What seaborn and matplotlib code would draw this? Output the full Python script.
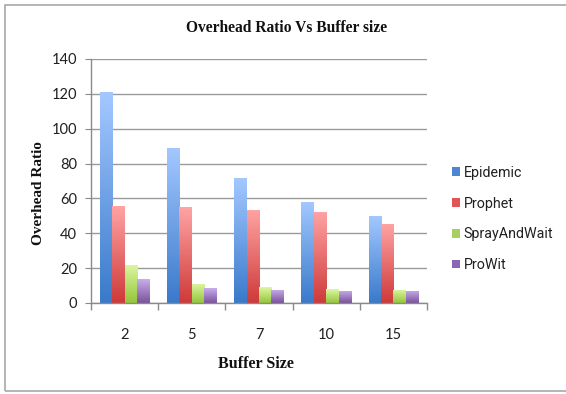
import numpy as np
import pandas as pd
import matplotlib
matplotlib.use("Agg")
import matplotlib.pyplot as plt
import matplotlib.colors as mcolors
from matplotlib.patches import Rectangle, Patch
import seaborn as sns

buffer_sizes = ["2", "5", "7", "10", "15"]
protocols = ["Epidemic", "Prophet", "SprayAndWait", "ProWit"]
epidemic = [121, 89, 72, 58, 50]
prophet = [55.5, 55, 53.5, 52.5, 45.5]
spray_and_wait = [22, 11, 9, 8, 7.5]
prowit = [13.5, 8.5, 7.5, 7, 7]

series = {"Epidemic": epidemic, "Prophet": prophet,
          "SprayAndWait": spray_and_wait, "ProWit": prowit}
df = pd.DataFrame([
    {"Buffer Size": b, "Protocol": p, "Overhead Ratio": v}
    for p in protocols for b, v in zip(buffer_sizes, series[p])
])

# (bottom, top) gradient colours and legend swatch colour
grad = {
    "Epidemic": ("#3a7acb", "#a3c8ff"),
    "Prophet": ("#cf3a3a", "#ffa3a3"),
    "SprayAndWait": ("#95c63a", "#dcf7a2"),
    "ProWit": ("#7a539c", "#c8adeb"),
}
swatch = {"Epidemic": "#4f86d4", "Prophet": "#e05555",
          "SprayAndWait": "#a8d060", "ProWit": "#8a66b4"}

sns.set_style("white")
plt.rcParams["font.family"] = ["Lato", "DejaVu Sans"]

fig = plt.figure(figsize=(5.66, 3.94), dpi=100)
fig.patch.set_facecolor("white")
ax = fig.add_axes([91 / 566, 91 / 394, 336 / 566, 244 / 394])

sns.barplot(data=df, x="Buffer Size", y="Overhead Ratio", hue="Protocol",
            order=buffer_sizes, hue_order=protocols,
            palette=swatch, saturation=1, width=0.74, legend=False, ax=ax)

ax.set_ylim(0, 140)
ax.set_xlim(-0.5, 4.5)

# vertical gradient fill inside each bar
ramp = np.linspace(0, 1, 64).reshape(-1, 1)
for proto, cont in zip(protocols, ax.containers):
    cmap = mcolors.LinearSegmentedColormap.from_list(proto, list(grad[proto]))
    for bar in cont:
        x0, y0 = bar.get_x(), bar.get_y()
        w, h = bar.get_width(), bar.get_height()
        im = ax.imshow(ramp, extent=(x0, x0 + w, y0, y0 + h), origin="lower",
                       cmap=cmap, aspect="auto", zorder=bar.get_zorder(),
                       interpolation="bilinear")
        im.set_clip_path(bar)
        bar.set_facecolor("none")
        bar.set_edgecolor("none")

ax.set_ylim(0, 140)
ax.set_xlim(-0.5, 4.5)
ax.set_yticks(np.arange(0, 141, 20))
ax.yaxis.grid(True, color="#9a9a9a", linewidth=1.0)
ax.set_axisbelow(True)

# category boundary ticks on the x axis, labels centred in the categories
ax.set_xticks(np.arange(-0.5, 5, 1.0))
ax.set_xticklabels([])
ax.set_xticks(range(len(buffer_sizes)), minor=True)
ax.set_xticklabels(buffer_sizes, minor=True, fontsize=10.5)
ax.tick_params(axis="x", which="major", direction="out", length=5,
               color="#8a8a8a", width=1, bottom=True)
ax.tick_params(axis="x", which="minor", length=0, pad=18, labelcolor="#202020")
ax.tick_params(axis="y", direction="out", length=4, color="#8a8a8a",
               labelsize=10.5, labelcolor="#202020", left=True, pad=6)

for s in ["top", "right"]:
    ax.spines[s].set_visible(False)
for s in ["left", "bottom"]:
    ax.spines[s].set_color("#8a8a8a")
    ax.spines[s].set_linewidth(1.0)

ax.set_xlabel("Buffer Size", family=["Liberation Serif"], fontweight="bold",
              fontsize=11.5, color="#111111")
ax.xaxis.set_label_coords((256 - 91) / 336, -(356 - 303) / 244)
ax.set_ylabel("Overhead Ratio", family=["Liberation Serif"], fontweight="bold",
              fontsize=11, color="#111111")
ax.yaxis.set_label_coords((45 - 91) / 336, (303 - 193) / 244)
fig.text(287 / 566, 1 - 28 / 394, "Overhead Ratio Vs Buffer size",
         family=["Liberation Serif"], fontweight="bold", fontsize=11.2,
         ha="center", va="center", color="#111111")

# legend: fit the longest label into the space right of the plot
legend_font = ["Roboto", "Lato"]
renderer = fig.canvas.get_renderer()
size = 10.5
while size > 7:
    probe = fig.text(0, 0, "SprayAndWait", family=legend_font, fontsize=size)
    width = probe.get_window_extent(renderer).width
    probe.remove()
    if width <= 90:
        break
    size -= 0.25

handles = [Patch(facecolor=swatch[p], edgecolor="none", label=p) for p in protocols]
fig.legend(handles=handles, loc="upper left",
           bbox_to_anchor=(439 / 566, 1 - 153 / 394),
           frameon=False, prop={"family": legend_font, "size": size},
           labelspacing=31 / (size * 100 / 72) - 1, handlelength=0.55,
           handleheight=0.55, handletextpad=0.3, labelcolor="#202020")

# outer chart border
fig.patches.append(Rectangle((5 / 566, 3 / 394), 1.0, 1 - 8 / 394,
                             transform=fig.transFigure, fill=False,
                             edgecolor="#a8a8a8", linewidth=1.2))

fig.savefig("out.png", dpi=100, facecolor="white")
